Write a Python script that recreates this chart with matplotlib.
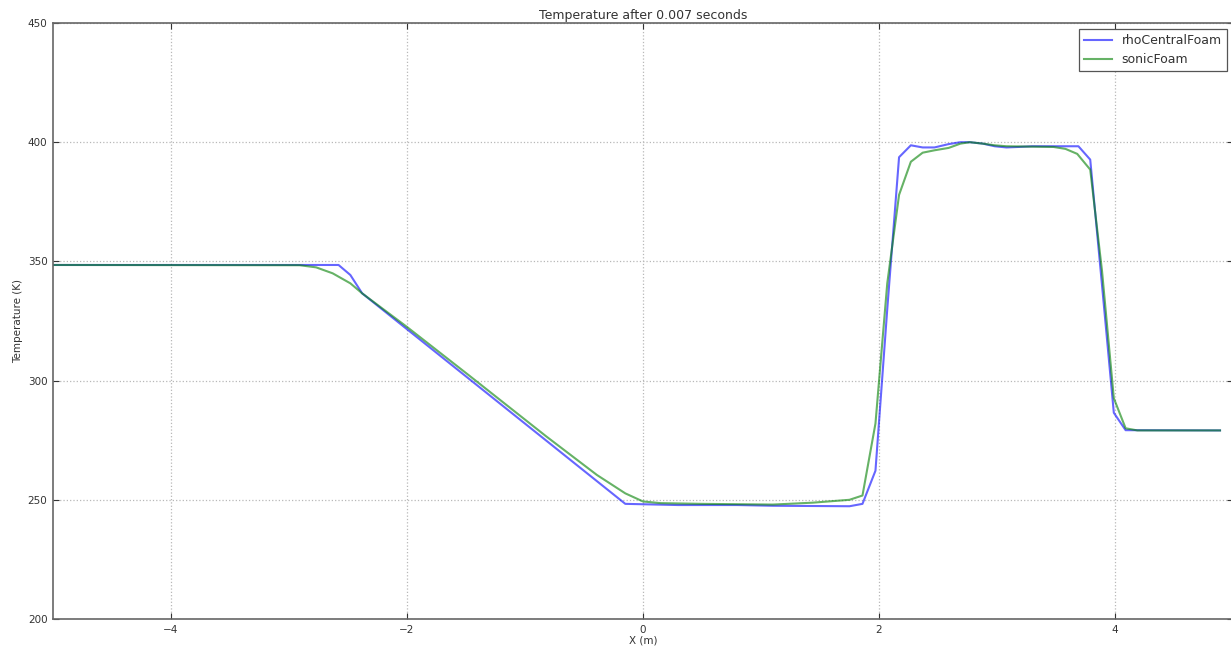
import matplotlib
matplotlib.use('Agg')
import matplotlib.pyplot as plt

# rhoCentralFoam temperature profile
x_rho = [-5.0, -2.58, -2.48, -2.38, -0.15, 0.3, 0.8, 1.1, 1.75, 1.86, 1.97, 2.07,
         2.17, 2.27, 2.37, 2.47, 2.59, 2.69, 2.77, 2.88, 2.98, 3.08, 3.18, 3.3,
         3.69, 3.79, 3.89, 3.99, 4.09, 4.89]
t_rho = [348.5, 348.5, 344.3, 336.6, 248.3, 247.8, 247.8, 247.5, 247.3, 248.3, 262.2, 330.0,
         393.7, 398.7, 397.8, 397.8, 399.2, 400.0, 400.0, 399.4, 398.3, 397.8, 398.0, 398.3,
         398.3, 392.7, 340.0, 286.5, 279.2, 279.1]

# sonicFoam temperature profile
x_sonic = [-5.0, -2.91, -2.77, -2.63, -2.48, -2.38, -2.0, -1.48, -0.82, -0.39, -0.15, 0.0,
           0.15, 0.5, 1.1, 1.44, 1.75, 1.86, 1.97, 2.07, 2.17, 2.27, 2.37, 2.47,
           2.59, 2.69, 2.77, 2.88, 2.98, 3.08, 3.48, 3.58, 3.68, 3.79, 3.89, 3.99,
           4.09, 4.19, 4.89]
t_sonic = [348.5, 348.4, 347.5, 345.0, 340.8, 336.6, 322.5, 302.4, 276.6, 260.4, 252.7, 249.3,
           248.6, 248.3, 248.0, 248.8, 250.0, 251.8, 282.0, 340.8, 377.9, 391.8, 395.6, 396.6,
           397.6, 399.4, 400.0, 399.4, 398.7, 398.3, 398.0, 397.2, 395.1, 388.5, 346.0, 292.6,
           280.0, 279.1, 279.1]

W, H = 1231, 652
fig = plt.figure(figsize=(W / 100, H / 100), dpi=100)
ax = fig.add_axes([53 / W, 33 / H, 1180 / W, 596 / H])

ax.plot(x_rho, t_rho, color='b', alpha=0.6, lw=1.5, label='rhoCentralFoam')
ax.plot(x_sonic, t_sonic, color='g', alpha=0.6, lw=1.5, label='sonicFoam')

ax.set_xlim(-5, 5)
ax.set_ylim(200, 450)
ax.set_xticks([-4, -2, 0, 2, 4])
ax.set_yticks([200, 250, 300, 350, 400, 450])
ax.grid(True, color='#b8b8b8', linestyle=':', linewidth=0.9)
ax.tick_params(direction='in', top=True, right=True, labelsize=7.5,
               colors='#333333', length=4, width=0.8, pad=4)
for s in ax.spines.values():
    s.set_color('#666666')
    s.set_linewidth(1.2)

ax.set_title('Temperature after 0.007 seconds', fontsize=9, color='#333333', pad=3)
ax.set_xlabel('X (m)', fontsize=7.5, color='#333333', labelpad=1)
ax.set_ylabel('Temperature (K)', fontsize=7.5, color='#333333', labelpad=3)

leg = ax.legend(loc='upper right', fontsize=9, fancybox=False, framealpha=1,
                borderaxespad=0.5, handlelength=2.2)
leg.get_frame().set_edgecolor('#555555')
leg.get_frame().set_linewidth(0.9)
for t in leg.get_texts():
    t.set_color('#333333')

fig.savefig('out.png', dpi=100)
